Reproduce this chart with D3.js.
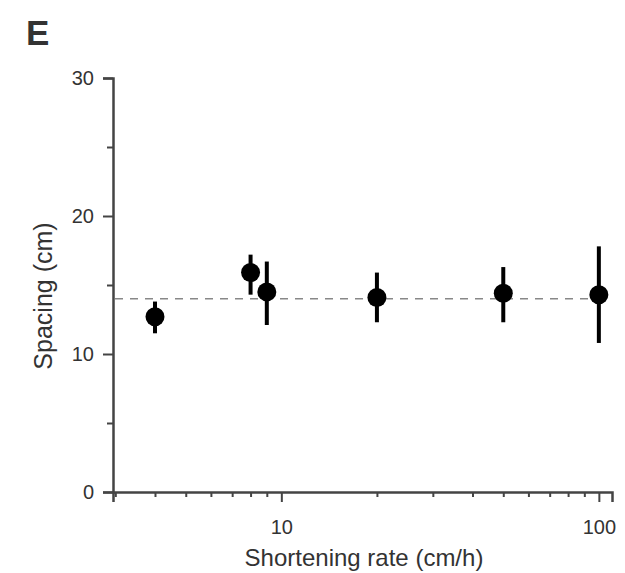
<!DOCTYPE html>
<html>
<head>
<meta charset="utf-8">
<script src="https://cdn.jsdelivr.net/npm/d3@7"></script>
<style>
  body { margin: 0; background: #fff; }
  text { font-family: "Liberation Sans", Arial, sans-serif; fill: #333; }
</style>
</head>
<body>
<div id="chart"></div>
<script>
// Data
var rates = [4, 8, 9, 20, 50, 100];
var spacing = [12.7, 15.9, 14.5, 14.1, 14.4, 14.3];
var errLow = [11.5, 14.3, 12.1, 12.3, 12.3, 10.8];
var errHigh = [13.8, 17.2, 16.7, 15.9, 16.3, 17.8];
var meanSpacing = 14;
var xTicks = [10, 100];
var yTicks = [0, 10, 20, 30];

var svgWidth = 625;
var svgHeight = 573;

var chartMargin = { top: 78, right: 13, bottom: 81, left: 113 };
var chartWidth = svgWidth - chartMargin.left - chartMargin.right;
var chartHeight = svgHeight - chartMargin.top - chartMargin.bottom;

var svg = d3.select("#chart")
    .append("svg")
    .attr("width", svgWidth)
    .attr("height", svgHeight);

var chartGroup = svg.append("g")
    .attr("transform", `translate(${chartMargin.left}, ${chartMargin.top})`);

var x = d3.scaleLog()
    .domain([2.95, 110])
    .range([0, chartWidth]);

var y = d3.scaleLinear()
    .domain([0, 30])
    .range([chartHeight, 0]);

var axisColor = "#444";

// minor ticks on x (log)
var minorX = [];
[1, 10, 100].forEach(function(dec) {
    for (var i = 1; i < 10; i++) {
        var v = dec * i;
        if (v >= 3 && v <= 110 && xTicks.indexOf(v) < 0) minorX.push(v);
    }
});

var xMinor = chartGroup.append("g")
    .attr("transform", `translate(0, ${chartHeight})`)
    .call(d3.axisBottom(x).tickValues(minorX).tickSize(5).tickFormat(""));

var xAxis = chartGroup.append("g")
    .attr("transform", `translate(0, ${chartHeight})`)
    .call(d3.axisBottom(x).tickValues(xTicks).tickSize(10).tickPadding(18).tickFormat(d3.format("d")));

var yMinor = chartGroup.append("g")
    .call(d3.axisLeft(y).tickValues([5, 15, 25]).tickSize(6).tickFormat(""));

var yAxis = chartGroup.append("g")
    .call(d3.axisLeft(y).tickValues(yTicks).tickSize(10).tickPadding(9));

[xMinor, xAxis, yMinor, yAxis].forEach(function(g) {
    g.selectAll("path").attr("stroke", axisColor).attr("stroke-width", 2.5);
    g.selectAll("line").attr("stroke", axisColor).attr("stroke-width", 2);
    g.selectAll("text").style("font-size", "20px").attr("fill", "#333");
});
xMinor.select("path").remove();
yMinor.select("path").remove();

// dashed mean line
chartGroup.append("line")
    .attr("x1", 2)
    .attr("x2", chartWidth - 3)
    .attr("y1", y(meanSpacing))
    .attr("y2", y(meanSpacing))
    .attr("stroke", "#888")
    .attr("stroke-width", 1.6)
    .attr("stroke-dasharray", "8,7");

var pts = rates.map(function(r, i) {
    return { rate: r, val: spacing[i], lo: errLow[i], hi: errHigh[i] };
});

chartGroup.selectAll(".err")
    .data(pts)
    .enter()
    .append("line")
    .attr("class", "err")
    .attr("x1", d => x(d.rate))
    .attr("x2", d => x(d.rate))
    .attr("y1", d => y(d.lo))
    .attr("y2", d => y(d.hi))
    .attr("stroke", "#000")
    .attr("stroke-width", 4);

chartGroup.selectAll(".dot")
    .data(pts)
    .enter()
    .append("circle")
    .attr("class", "dot")
    .attr("cx", d => x(d.rate))
    .attr("cy", d => y(d.val))
    .attr("r", 9.5)
    .attr("fill", "#000");

// axis titles
svg.append("text")
    .attr("x", 364)
    .attr("y", 566)
    .attr("text-anchor", "middle")
    .style("font-size", "24px")
    .text("Shortening rate (cm/h)");

svg.append("text")
    .attr("transform", "rotate(-90)")
    .attr("x", -296)
    .attr("y", 52)
    .attr("text-anchor", "middle")
    .style("font-size", "25px")
    .text("Spacing (cm)");

// panel letter
svg.append("text")
    .attr("x", 26)
    .attr("y", 45)
    .style("font-size", "35px")
    .style("font-weight", "bold")
    .attr("fill", "#111")
    .text("E");
</script>
</body>
</html>
